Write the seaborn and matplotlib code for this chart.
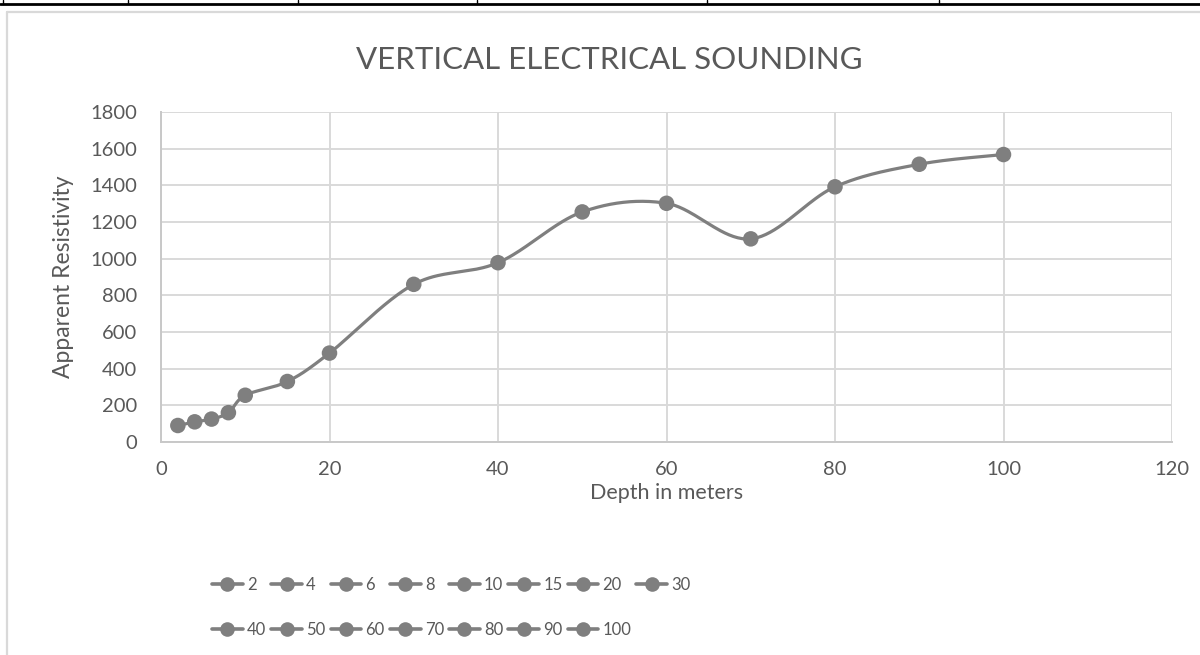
import numpy as np
import pandas as pd
import matplotlib
matplotlib.use("Agg")
import matplotlib.pyplot as plt
from matplotlib.lines import Line2D
import seaborn as sns

# Sounding data
depth = [2, 4, 6, 8, 10, 15, 20, 30, 40, 50, 60, 70, 80, 90, 100]
resistivity = [90, 110, 125, 160, 255, 330, 485, 860, 978, 1255, 1302, 1108, 1392, 1515, 1568]

title = "VERTICAL ELECTRICAL SOUNDING"
x_label = "Depth in meters"
y_label = "Apparent Resistivity"
x_ticks = [0, 20, 40, 60, 80, 100, 120]
y_ticks = [0, 200, 400, 600, 800, 1000, 1200, 1400, 1600, 1800]

LINE = "#7f7f7f"
TEXT = "#595959"
GRID = "#d9d9d9"

sns.set_theme(style="white")
plt.rcParams["font.family"] = ["Lato", "DejaVu Sans"]

W, H = 1200, 655
fig = plt.figure(figsize=(W / 100, H / 100), dpi=100)
fig.patch.set_facecolor("white")


def px(x, y):
    """pixel (from top-left) -> figure fraction"""
    return x / W, 1 - y / H


left, top = px(161, 112)
right, bottom = px(1172, 442)
ax = fig.add_axes([left, bottom, right - left, top - bottom])


def excel_smooth(xs, ys, n=40):
    """Bezier smoothing through every point (control points at 1/6 of neighbour chord)."""
    xs = np.asarray(xs, float)
    ys = np.asarray(ys, float)
    P = np.column_stack([xs, ys])
    Pe = np.vstack([P[0], P, P[-1]])
    out = []
    t = np.linspace(0, 1, n)[:, None]
    for i in range(len(P) - 1):
        p0, p1 = Pe[i + 1], Pe[i + 2]
        c1 = p0 + (Pe[i + 2] - Pe[i]) / 6.0
        c2 = p1 - (Pe[i + 3] - Pe[i + 1]) / 6.0
        seg = ((1 - t) ** 3) * p0 + 3 * ((1 - t) ** 2) * t * c1 + 3 * (1 - t) * t ** 2 * c2 + t ** 3 * p1
        out.append(seg if i == 0 else seg[1:])
    S = np.vstack(out)
    return S[:, 0], S[:, 1]


sx, sy = excel_smooth(depth, resistivity)
curve = pd.DataFrame({"x": sx, "y": sy})
points = pd.DataFrame({"Depth": depth, "Resistivity": resistivity})

sns.lineplot(data=curve, x="x", y="y", sort=False, ax=ax, color=LINE,
             linewidth=2.3, estimator=None, zorder=3)
sns.scatterplot(data=points, x="Depth", y="Resistivity", ax=ax, color=LINE,
                s=125, edgecolor="none", linewidth=0, zorder=4)

ax.set_xlim(0, 120)
ax.set_ylim(0, 1800)
ax.set_xticks(x_ticks)
ax.set_yticks(y_ticks)
ax.grid(True, color=GRID, linewidth=1.4)
ax.set_axisbelow(True)
for s in ["top", "right"]:
    ax.spines[s].set_visible(False)
for s in ["left", "bottom"]:
    ax.spines[s].set_color("#c8c8c8")
    ax.spines[s].set_linewidth(1.4)
ax.tick_params(axis="both", length=0, labelsize=14.5, labelcolor=TEXT)
ax.tick_params(axis="x", pad=14)
ax.tick_params(axis="y", pad=17)
ax.set_xlabel(x_label, fontsize=15.5, color=TEXT, labelpad=3)
ax.set_ylabel(y_label, fontsize=16.5, color=TEXT, labelpad=12)

fig.text(0.5 + 9 / W, px(0, 60)[1], title, ha="center", va="center",
         fontsize=22.5, color=TEXT)

# Legend: one entry per depth, laid out row by row in two rows
handles = [Line2D([], [], color=LINE, linewidth=2.6, marker="o",
                  markersize=10.5, markeredgewidth=0) for _ in depth]
labels = [str(d) for d in depth]
ncol = 8
row1 = list(range(0, ncol))
row2 = list(range(ncol, len(depth)))
order = []
for j in range(ncol):
    order.append(row1[j])
    if j < len(row2):
        order.append(row2[j])
leg = fig.legend([handles[i] for i in order], [labels[i] for i in order],
                 ncol=ncol, loc="upper left", bbox_to_anchor=px(212, 577),
                 frameon=False, fontsize=12, labelcolor=TEXT,
                 handlelength=1.85, handletextpad=0.25, columnspacing=0.3,
                 labelspacing=1.75, borderaxespad=0, borderpad=0)

# Chart frame and the table rule above it
fig.add_artist(Line2D([7 / W, 7 / W], [px(0, 12)[1], 0], transform=fig.transFigure,
                      color=GRID, linewidth=1.6))
fig.add_artist(Line2D([7 / W, 1], [px(0, 12)[1]] * 2, transform=fig.transFigure,
                      color=GRID, linewidth=1.6))
fig.add_artist(Line2D([0, 1], [px(0, 3.5)[1]] * 2, transform=fig.transFigure,
                      color="black", linewidth=2.0))
for xv in [3, 128, 298, 477, 707, 939]:
    fig.add_artist(Line2D([xv / W] * 2, [1, px(0, 4)[1]], transform=fig.transFigure,
                          color="black", linewidth=1.0))

fig.savefig("out.png", dpi=100)
